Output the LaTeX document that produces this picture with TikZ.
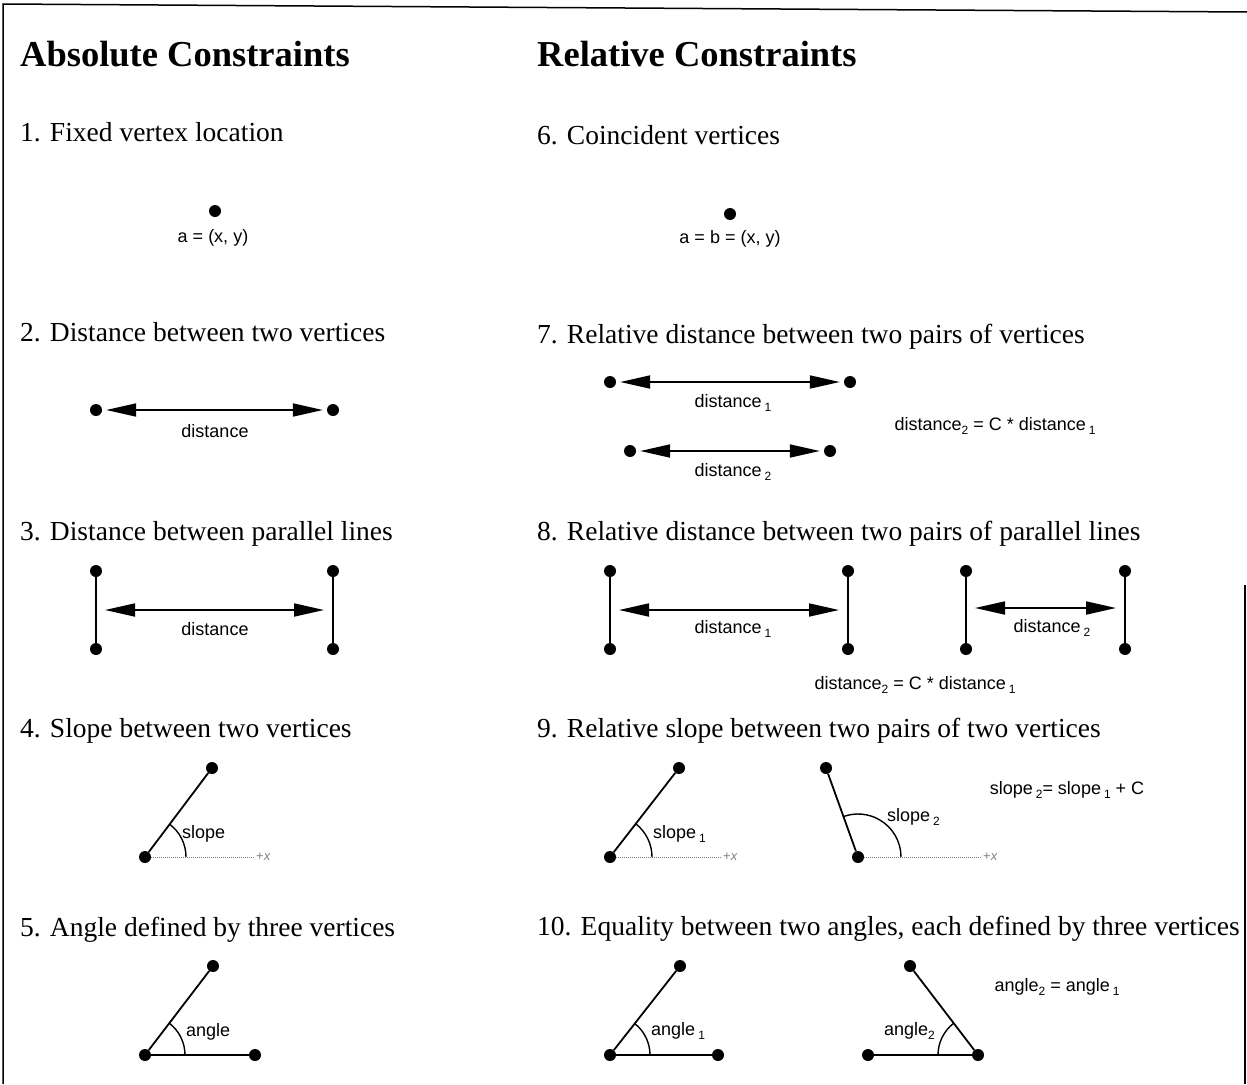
\documentclass[tikz,border=0pt]{standalone}
\usepackage{fontspec}
\setmainfont{Liberation Serif}
\setsansfont{Liberation Sans}
\usetikzlibrary{arrows.meta,calc}
\newcommand\mysub[1]{\raisebox{-0.5ex}{\fontsize{12}{12}\selectfont #1}}
\begin{document}
\begin{tikzpicture}[x=1pt,y=-1pt,
  head/.style={font=\fontsize{36.5}{40}\selectfont\bfseries, anchor=base west, inner sep=0pt},
  item/.style={font=\fontsize{27.5}{30}\selectfont, anchor=base west, inner sep=0pt},
  lbl/.style={font=\sffamily\fontsize{18}{20}\selectfont, inner sep=0pt},
  axlbl/.style={font=\sffamily\fontsize{13}{14}\selectfont, text=gray, inner sep=1pt},
  vtx/.style={circle, fill, inner sep=0pt, minimum size=12pt},
  seg/.style={line width=1.8pt},
  thinseg/.style={line width=1.1pt},
  dimarrow/.style={line width=1.8pt, {Triangle[length=30pt,width=13pt]}-{Triangle[length=30pt,width=13pt]}, shorten <=4pt, shorten >=4pt},
  axis/.style={gray, line width=1pt, densely dotted},
  arcline/.style={line width=1.4pt},
  frame/.style={line width=1.5pt},
]
\useasboundingbox (0,0) rectangle (1247,1084);
% frame
\draw[frame] (3,1084) -- (3,4) -- (1247,12);
\draw[frame] (1245,585) -- (1245,1084);

% headings
\node[head] (hA) at (20,66) {Absolute Constraints};
\node[head] (hR) at (537,66) {Relative Constraints};

% item titles
\node[item] (i1) at (20,141) {1. Fixed vertex location};
\node[item] (i2) at (20,341) {2. Distance between two vertices};
\node[item] (i3) at (20,540) {3. Distance between parallel lines};
\node[item] (i4) at (20,737) {4. Slope between two vertices};
\node[item] (i5) at (20,936) {5. Angle defined by three vertices};
\node[item] (i6) at (537,144) {6. Coincident vertices};
\node[item] (i7) at (537,343) {7. Relative distance between two pairs of vertices};
\node[item] (i8) at (537,540) {8. Relative distance between two pairs of parallel lines};
\node[item] (i9) at (537,737) {9. Relative slope between two pairs of two vertices};
\node[item] (i10) at (537,935) {10. Equality between two angles, each defined by three vertices};

% 1
\node[vtx] (a1) at (215,211) {};
\node[lbl] (l1) at (213,238) {a = (x, y)};

% 2
\node[vtx] (a2) at (96,410) {};
\node[vtx] (b2) at (333,410) {};
\draw[dimarrow] (a2) -- (b2);
\node[lbl] (l2) at (215,431) {distance};

% 3
\node[vtx] (a3) at (96,571) {};
\node[vtx] (c3) at (96,649) {};
\node[vtx] (b3) at (333,571) {};
\node[vtx] (d3) at (333,649) {};
\draw[thinseg] (a3) -- (c3);
\draw[thinseg] (b3) -- (d3);
\coordinate (m3a) at (96,610);
\coordinate (m3b) at (333,610);
\draw[dimarrow, shorten <=9pt, shorten >=9pt] (m3a) -- (m3b);
\node[lbl] (l3) at (215,629) {distance};

% 4
\node[vtx] (b4) at (145,857) {};
\node[vtx] (t4) at (212,768) {};
\draw[seg] (b4) -- (t4);
\node[axlbl, anchor=west] (x4) at (255,857) {+\textit{x}};
\draw[axis] (b4) -- (x4);
\draw[arcline] ($(b4)+(41,0)$) arc[start angle=0, end angle=-53, radius=41];
\node[lbl, anchor=west] (l4) at (182,834) {slope};

% 5
\node[vtx] (b5) at (145,1055) {};
\node[vtx] (t5) at (213,966) {};
\node[vtx] (r5) at (255,1055) {};
\draw[seg] (t5) -- (b5) -- (r5);
\draw[arcline] ($(b5)+(40,0)$) arc[start angle=0, end angle=-52.6, radius=40];
\node[lbl, anchor=west] (l5) at (186,1032) {angle};

% 6
\node[vtx] (a6) at (730,214) {};
\node[lbl] (l6) at (730,239) {a = b = (x, y)};

% 7
\node[vtx] (a7) at (610,382) {};
\node[vtx] (b7) at (850,382) {};
\draw[dimarrow] (a7) -- (b7);
\node[lbl] (l7a) at (733,403) {distance\,\mysub{1}};
\node[vtx] (c7) at (630,451) {};
\node[vtx] (d7) at (830,451) {};
\draw[dimarrow] (c7) -- (d7);
\node[lbl] (l7b) at (733,472) {distance\,\mysub{2}};
\node[lbl] (e7) at (995,426) {distance\mysub{2} = C * distance\,\mysub{1}};

% 8
\node[vtx] (a8) at (610,571) {};
\node[vtx] (c8) at (610,649) {};
\node[vtx] (b8) at (848,571) {};
\node[vtx] (d8) at (848,649) {};
\draw[seg] (a8) -- (c8);
\draw[seg] (b8) -- (d8);
\coordinate (m8a) at (610,610);
\coordinate (m8b) at (848,610);
\draw[dimarrow, shorten <=9pt, shorten >=9pt] (m8a) -- (m8b);
\node[lbl] (l8a) at (733,629) {distance\,\mysub{1}};
\node[vtx] (e8) at (966,571) {};
\node[vtx] (g8) at (966,649) {};
\node[vtx] (f8) at (1125,571) {};
\node[vtx] (h8) at (1125,649) {};
\draw[seg] (e8) -- (g8);
\draw[seg] (f8) -- (h8);
\coordinate (m8c) at (966,608);
\coordinate (m8d) at (1125,608);
\draw[dimarrow, shorten <=9pt, shorten >=9pt] (m8c) -- (m8d);
\node[lbl] (l8b) at (1052,628) {distance\,\mysub{2}};
\node[lbl] (eq8) at (915,685) {distance\mysub{2} = C * distance\,\mysub{1}};

% 9
\node[vtx] (b9) at (610,857) {};
\node[vtx] (t9) at (679,768) {};
\draw[seg] (b9) -- (t9);
\node[axlbl, anchor=west] (x9) at (722,857) {+\textit{x}};
\draw[axis] (b9) -- (x9);
\draw[arcline] ($(b9)+(42,0)$) arc[start angle=0, end angle=-52.2, radius=42];
\node[lbl, anchor=west] (l9a) at (653,834) {slope\,\mysub{1}};
\node[vtx] (b9b) at (858,857) {};
\node[vtx] (t9b) at (826,768) {};
\draw[seg] (b9b) -- (t9b);
\node[axlbl, anchor=west] (x9b) at (982,857) {+\textit{x}};
\draw[axis] (b9b) -- (x9b);
\draw[arcline] ($(b9b)+(43,0)$) arc[start angle=0, end angle=-109.8, radius=43];
\node[lbl, anchor=west] (l9b) at (887,817) {slope\,\mysub{2}};
\node[lbl] (eq9) at (1067,790) {slope\,\mysub{2}= slope\,\mysub{1} + C};

% 10
\node[vtx] (b10) at (610,1055) {};
\node[vtx] (t10) at (680,966) {};
\node[vtx] (r10) at (718,1055) {};
\draw[seg] (t10) -- (b10) -- (r10);
\draw[arcline] ($(b10)+(40,0)$) arc[start angle=0, end angle=-51.8, radius=40];
\node[lbl, anchor=west] (l10a) at (651,1031) {angle\,\mysub{1}};
\node[vtx] (l10) at (868,1055) {};
\node[vtx] (t10b) at (910,966) {};
\node[vtx] (r10b) at (978,1055) {};
\draw[seg] (l10) -- (r10b) -- (t10b);
\draw[arcline] ($(r10b)+(-40,0)$) arc[start angle=-180, end angle=-127.4, radius=40];
\node[lbl, anchor=east] (l10b) at (935,1031) {angle\mysub{2}};
\node[lbl] (eq10) at (1057,987) {angle\mysub{2} = angle\,\mysub{1}};
\end{tikzpicture}
\end{document}
